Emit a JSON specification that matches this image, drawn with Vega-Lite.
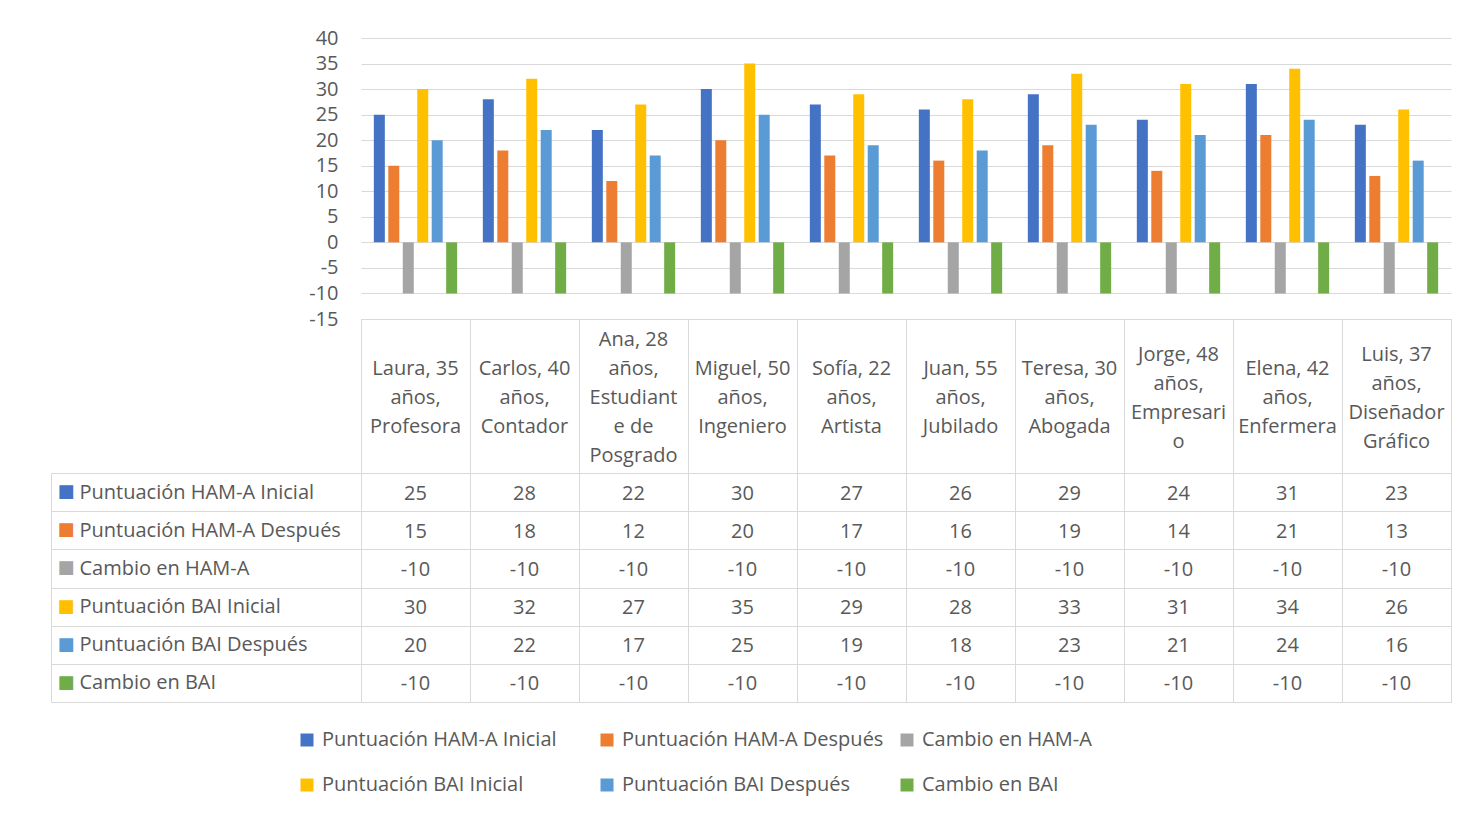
{
  "$schema": "https://vega.github.io/schema/vega-lite/v6.json",
  "background": "white",
  "padding": {"left": 50, "top": 28, "right": 34, "bottom": 15},
  "config": {
    "font": "Open Sans",
    "axis": {"labelFont": "Open Sans", "labelColor": "#595959", "labelFontSize": 20, "gridColor": "#d9d9d9", "tickColor": "#d9d9d9", "domainColor": "#d9d9d9"},
    "legend": {"labelFont": "Open Sans"}
  },
  "datasets": {
    "personas": [
      {"persona": "Laura, 35 años, Profesora", "etiqueta": "Laura, 35\naños,\nProfesora"},
      {"persona": "Carlos, 40 años, Contador", "etiqueta": "Carlos, 40\naños,\nContador"},
      {"persona": "Ana, 28 años, Estudiante de Posgrado", "etiqueta": "Ana, 28\naños,\nEstudiant\ne de\nPosgrado"},
      {"persona": "Miguel, 50 años, Ingeniero", "etiqueta": "Miguel, 50\naños,\nIngeniero"},
      {"persona": "Sofía, 22 años, Artista", "etiqueta": "Sofía, 22\naños,\nArtista"},
      {"persona": "Juan, 55 años, Jubilado", "etiqueta": "Juan, 55\naños,\nJubilado"},
      {"persona": "Teresa, 30 años, Abogada", "etiqueta": "Teresa, 30\naños,\nAbogada"},
      {"persona": "Jorge, 48 años, Empresario", "etiqueta": "Jorge, 48\naños,\nEmpresari\no"},
      {"persona": "Elena, 42 años, Enfermera", "etiqueta": "Elena, 42\naños,\nEnfermera"},
      {"persona": "Luis, 37 años, Diseñador Gráfico", "etiqueta": "Luis, 37\naños,\nDiseñador\nGráfico"}
    ],
    "puntuaciones": [
      {"persona": "Laura, 35 años, Profesora", "serie": "Puntuación HAM-A Inicial", "valor": 25},
      {"persona": "Laura, 35 años, Profesora", "serie": "Puntuación HAM-A Después", "valor": 15},
      {"persona": "Laura, 35 años, Profesora", "serie": "Cambio en HAM-A", "valor": -10},
      {"persona": "Laura, 35 años, Profesora", "serie": "Puntuación BAI Inicial", "valor": 30},
      {"persona": "Laura, 35 años, Profesora", "serie": "Puntuación BAI Después", "valor": 20},
      {"persona": "Laura, 35 años, Profesora", "serie": "Cambio en BAI", "valor": -10},
      {"persona": "Carlos, 40 años, Contador", "serie": "Puntuación HAM-A Inicial", "valor": 28},
      {"persona": "Carlos, 40 años, Contador", "serie": "Puntuación HAM-A Después", "valor": 18},
      {"persona": "Carlos, 40 años, Contador", "serie": "Cambio en HAM-A", "valor": -10},
      {"persona": "Carlos, 40 años, Contador", "serie": "Puntuación BAI Inicial", "valor": 32},
      {"persona": "Carlos, 40 años, Contador", "serie": "Puntuación BAI Después", "valor": 22},
      {"persona": "Carlos, 40 años, Contador", "serie": "Cambio en BAI", "valor": -10},
      {"persona": "Ana, 28 años, Estudiante de Posgrado", "serie": "Puntuación HAM-A Inicial", "valor": 22},
      {"persona": "Ana, 28 años, Estudiante de Posgrado", "serie": "Puntuación HAM-A Después", "valor": 12},
      {"persona": "Ana, 28 años, Estudiante de Posgrado", "serie": "Cambio en HAM-A", "valor": -10},
      {"persona": "Ana, 28 años, Estudiante de Posgrado", "serie": "Puntuación BAI Inicial", "valor": 27},
      {"persona": "Ana, 28 años, Estudiante de Posgrado", "serie": "Puntuación BAI Después", "valor": 17},
      {"persona": "Ana, 28 años, Estudiante de Posgrado", "serie": "Cambio en BAI", "valor": -10},
      {"persona": "Miguel, 50 años, Ingeniero", "serie": "Puntuación HAM-A Inicial", "valor": 30},
      {"persona": "Miguel, 50 años, Ingeniero", "serie": "Puntuación HAM-A Después", "valor": 20},
      {"persona": "Miguel, 50 años, Ingeniero", "serie": "Cambio en HAM-A", "valor": -10},
      {"persona": "Miguel, 50 años, Ingeniero", "serie": "Puntuación BAI Inicial", "valor": 35},
      {"persona": "Miguel, 50 años, Ingeniero", "serie": "Puntuación BAI Después", "valor": 25},
      {"persona": "Miguel, 50 años, Ingeniero", "serie": "Cambio en BAI", "valor": -10},
      {"persona": "Sofía, 22 años, Artista", "serie": "Puntuación HAM-A Inicial", "valor": 27},
      {"persona": "Sofía, 22 años, Artista", "serie": "Puntuación HAM-A Después", "valor": 17},
      {"persona": "Sofía, 22 años, Artista", "serie": "Cambio en HAM-A", "valor": -10},
      {"persona": "Sofía, 22 años, Artista", "serie": "Puntuación BAI Inicial", "valor": 29},
      {"persona": "Sofía, 22 años, Artista", "serie": "Puntuación BAI Después", "valor": 19},
      {"persona": "Sofía, 22 años, Artista", "serie": "Cambio en BAI", "valor": -10},
      {"persona": "Juan, 55 años, Jubilado", "serie": "Puntuación HAM-A Inicial", "valor": 26},
      {"persona": "Juan, 55 años, Jubilado", "serie": "Puntuación HAM-A Después", "valor": 16},
      {"persona": "Juan, 55 años, Jubilado", "serie": "Cambio en HAM-A", "valor": -10},
      {"persona": "Juan, 55 años, Jubilado", "serie": "Puntuación BAI Inicial", "valor": 28},
      {"persona": "Juan, 55 años, Jubilado", "serie": "Puntuación BAI Después", "valor": 18},
      {"persona": "Juan, 55 años, Jubilado", "serie": "Cambio en BAI", "valor": -10},
      {"persona": "Teresa, 30 años, Abogada", "serie": "Puntuación HAM-A Inicial", "valor": 29},
      {"persona": "Teresa, 30 años, Abogada", "serie": "Puntuación HAM-A Después", "valor": 19},
      {"persona": "Teresa, 30 años, Abogada", "serie": "Cambio en HAM-A", "valor": -10},
      {"persona": "Teresa, 30 años, Abogada", "serie": "Puntuación BAI Inicial", "valor": 33},
      {"persona": "Teresa, 30 años, Abogada", "serie": "Puntuación BAI Después", "valor": 23},
      {"persona": "Teresa, 30 años, Abogada", "serie": "Cambio en BAI", "valor": -10},
      {"persona": "Jorge, 48 años, Empresario", "serie": "Puntuación HAM-A Inicial", "valor": 24},
      {"persona": "Jorge, 48 años, Empresario", "serie": "Puntuación HAM-A Después", "valor": 14},
      {"persona": "Jorge, 48 años, Empresario", "serie": "Cambio en HAM-A", "valor": -10},
      {"persona": "Jorge, 48 años, Empresario", "serie": "Puntuación BAI Inicial", "valor": 31},
      {"persona": "Jorge, 48 años, Empresario", "serie": "Puntuación BAI Después", "valor": 21},
      {"persona": "Jorge, 48 años, Empresario", "serie": "Cambio en BAI", "valor": -10},
      {"persona": "Elena, 42 años, Enfermera", "serie": "Puntuación HAM-A Inicial", "valor": 31},
      {"persona": "Elena, 42 años, Enfermera", "serie": "Puntuación HAM-A Después", "valor": 21},
      {"persona": "Elena, 42 años, Enfermera", "serie": "Cambio en HAM-A", "valor": -10},
      {"persona": "Elena, 42 años, Enfermera", "serie": "Puntuación BAI Inicial", "valor": 34},
      {"persona": "Elena, 42 años, Enfermera", "serie": "Puntuación BAI Después", "valor": 24},
      {"persona": "Elena, 42 años, Enfermera", "serie": "Cambio en BAI", "valor": -10},
      {"persona": "Luis, 37 años, Diseñador Gráfico", "serie": "Puntuación HAM-A Inicial", "valor": 23},
      {"persona": "Luis, 37 años, Diseñador Gráfico", "serie": "Puntuación HAM-A Después", "valor": 13},
      {"persona": "Luis, 37 años, Diseñador Gráfico", "serie": "Cambio en HAM-A", "valor": -10},
      {"persona": "Luis, 37 años, Diseñador Gráfico", "serie": "Puntuación BAI Inicial", "valor": 26},
      {"persona": "Luis, 37 años, Diseñador Gráfico", "serie": "Puntuación BAI Después", "valor": 16},
      {"persona": "Luis, 37 años, Diseñador Gráfico", "serie": "Cambio en BAI", "valor": -10}
    ]
  },
  "spacing": 0,
  "bounds": "flush",
  "vconcat": [
    {
      "width": 1090,
      "height": 281,
      "data": {"name": "puntuaciones"},
      "view": {"stroke": null},
      "mark": {"type": "bar"},
      "encoding": {
        "x": {"field": "persona", "type": "nominal", "sort": null, "scale": {"paddingInner": 0, "paddingOuter": 0}, "axis": null},
        "xOffset": {"field": "serie", "type": "nominal", "sort": ["Puntuación HAM-A Inicial", "Puntuación HAM-A Después", "Cambio en HAM-A", "Puntuación BAI Inicial", "Puntuación BAI Después", "Cambio en BAI"], "scale": {"paddingInner": 0.24, "paddingOuter": 0.887}},
        "y": {
          "field": "valor", "type": "quantitative", "stack": null,
          "scale": {"domain": [-15, 40], "nice": false},
          "axis": {"title": null, "values": [-15, -10, -5, 0, 5, 10, 15, 20, 25, 30, 35, 40], "labelExpr": "'' + datum.value", "grid": true, "domain": false, "ticks": false, "labelPadding": 23}
        },
        "color": {
          "field": "serie", "type": "nominal",
          "scale": {
            "domain": ["Puntuación HAM-A Inicial", "Puntuación HAM-A Después", "Cambio en HAM-A", "Puntuación BAI Inicial", "Puntuación BAI Después", "Cambio en BAI"],
            "range": ["#4472C4", "#ED7D31", "#A5A5A5", "#FFC000", "#5B9BD5", "#70AD47"]
          },
          "legend": {
            "title": null, "orient": "none", "legendX": -64, "legendY": 692, "columns": 3, "direction": "horizontal", "gridAlign": "all",
            "symbolType": "square", "symbolSize": 169, "symbolStrokeWidth": 0, "symbolOpacity": 1,
            "labelFontSize": 20, "labelColor": "#595959", "labelOffset": 5, "columnPadding": 13, "rowPadding": 25,
            "labelLimit": 400, "padding": 0
          }
        }
      }
    },
    {
      "width": 1090,
      "height": 154,
      "data": {"name": "personas"},
      "view": {"stroke": "#d9d9d9"},
      "encoding": {
        "x": {"field": "persona", "type": "nominal",
              "scale": {"domain": ["Laura, 35 años, Profesora", "Carlos, 40 años, Contador", "Ana, 28 años, Estudiante de Posgrado", "Miguel, 50 años, Ingeniero", "Sofía, 22 años, Artista", "Juan, 55 años, Jubilado", "Teresa, 30 años, Abogada", "Jorge, 48 años, Empresario", "Elena, 42 años, Enfermera", "Luis, 37 años, Diseñador Gráfico"], "paddingInner": 0, "paddingOuter": 0},
              "axis": {"title": null, "labels": false, "ticks": false, "domain": false, "grid": true, "tickBand": "extent"}},
        "text": {"field": "etiqueta"}
      },
      "layer": [
        {
          "transform": [{"filter": {"field": "persona", "oneOf": ["Laura, 35 años, Profesora", "Carlos, 40 años, Contador", "Miguel, 50 años, Ingeniero", "Sofía, 22 años, Artista", "Juan, 55 años, Jubilado", "Teresa, 30 años, Abogada", "Elena, 42 años, Enfermera"]}}],
          "mark": {"type": "text", "lineBreak": "\n", "lineHeight": 29, "fontSize": 20, "color": "#595959", "baseline": "middle", "align": "center", "dy": -27}
        },
        {
          "transform": [{"filter": {"field": "persona", "oneOf": ["Jorge, 48 años, Empresario", "Luis, 37 años, Diseñador Gráfico"]}}],
          "mark": {"type": "text", "lineBreak": "\n", "lineHeight": 29, "fontSize": 20, "color": "#595959", "baseline": "middle", "align": "center", "dy": -41.5}
        },
        {
          "transform": [{"filter": {"field": "persona", "equal": "Ana, 28 años, Estudiante de Posgrado"}}],
          "mark": {"type": "text", "lineBreak": "\n", "lineHeight": 29, "fontSize": 20, "color": "#595959", "baseline": "middle", "align": "center", "dy": -56}
        }
      ]
    },
    {
      "width": 1090,
      "height": 229,
      "data": {"name": "puntuaciones"},
      "view": {"stroke": "#d9d9d9"},
      "layer": [
        {
          "mark": {"type": "text", "fontSize": 20, "color": "#595959", "baseline": "middle", "align": "center", "dy": 1.5},
          "encoding": {
            "x": {"field": "persona", "type": "nominal", "sort": null, "scale": {"paddingInner": 0, "paddingOuter": 0},
                  "axis": {"title": null, "labels": false, "ticks": false, "domain": false, "grid": true, "tickBand": "extent"}},
            "y": {"field": "serie", "type": "nominal",
                  "sort": ["Puntuación HAM-A Inicial", "Puntuación HAM-A Después", "Cambio en HAM-A", "Puntuación BAI Inicial", "Puntuación BAI Después", "Cambio en BAI"],
                  "scale": {"paddingInner": 0, "paddingOuter": 0},
                  "axis": {"title": null, "orient": "left", "domain": false, "grid": true, "tickBand": "extent", "ticks": true, "tickSize": 310,
                           "labelAlign": "left", "labelPadding": -28, "labelLimit": 400, "labelBaseline": "middle"}},
            "text": {"field": "valor", "type": "nominal"}
          }
        },
        {
          "mark": {"type": "text", "opacity": 0},
          "encoding": {
            "y": {
              "field": "serie", "type": "nominal",
              "sort": ["Puntuación HAM-A Inicial", "Puntuación HAM-A Después", "Cambio en HAM-A", "Puntuación BAI Inicial", "Puntuación BAI Después", "Cambio en BAI"],
              "axis": {
                "title": null, "orient": "left", "offset": 310, "domain": true, "grid": false, "ticks": false, "tickSize": 0,
                "labelAlign": "left", "labelPadding": -6, "labelExpr": "'■'", "labelFont": "DejaVu Sans", "labelFontSize": 18, "labelBaseline": "middle",
                "labelColor": {
                  "condition": [
                    {"test": "datum.value === 'Puntuación HAM-A Inicial'", "value": "#4472C4"},
                    {"test": "datum.value === 'Puntuación HAM-A Después'", "value": "#ED7D31"},
                    {"test": "datum.value === 'Cambio en HAM-A'", "value": "#A5A5A5"},
                    {"test": "datum.value === 'Puntuación BAI Inicial'", "value": "#FFC000"},
                    {"test": "datum.value === 'Puntuación BAI Después'", "value": "#5B9BD5"}
                  ],
                  "value": "#70AD47"
                }
              }
            },
            "text": {"field": "valor", "type": "nominal"}
          }
        }
      ],
      "resolve": {"axis": {"y": "independent"}}
    }
  ]
}
